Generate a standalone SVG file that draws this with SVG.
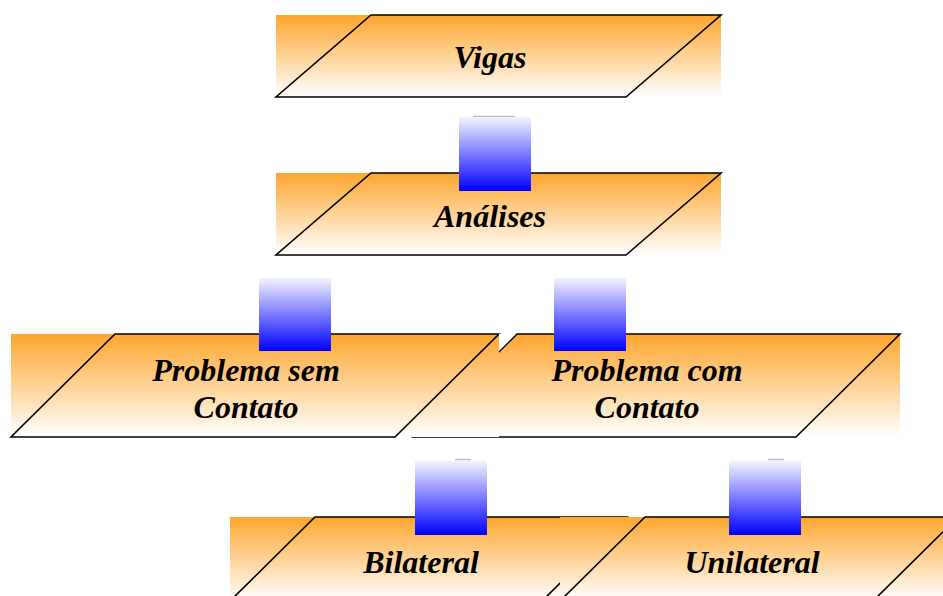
<svg xmlns="http://www.w3.org/2000/svg" width="943" height="596" viewBox="0 0 943 596">
  <defs>
    <linearGradient id="orange" x1="0" y1="0" x2="0" y2="1">
      <stop offset="0" stop-color="#FDA62E"/>
      <stop offset="1" stop-color="#FFFFFF"/>
    </linearGradient>
    <linearGradient id="blue" x1="0" y1="0" x2="0" y2="1">
      <stop offset="0" stop-color="#F4F4FF"/>
      <stop offset="1" stop-color="#0000FF"/>
    </linearGradient>
    <style>
      .box { fill: url(#orange); }
      .edge { fill: none; stroke: #000; stroke-width: 1.6; stroke-linejoin: miter; }
      .label { font-family: "Liberation Serif", "Times New Roman", serif; font-weight: bold; font-style: italic; font-size: 32px; fill: #000; text-anchor: middle; }
      .link { fill: url(#blue); }
      .cap { stroke: #BBBBBB; stroke-width: 1.5; }
    </style>
  </defs>

  <rect width="943" height="596" fill="#FFFFFF"/>

  <!-- top level -->
  <g id="node-vigas">
    <rect class="box" x="276" y="15" width="445" height="82"/>
    <polygon class="edge" points="371,15 721,15 626,97 276,97"/>
    <text class="label" x="490" y="68">Vigas</text>
  </g>

  <g id="node-analises">
    <rect class="box" x="276" y="173" width="445" height="82"/>
    <polygon class="edge" points="371,173 721,173 626,255 276,255"/>
    <text class="label" x="490" y="227">Análises</text>
  </g>

  <!-- second level: the right-hand box sits beneath the left-hand one -->
  <g id="node-com-contato">
    <rect class="box" x="413" y="334" width="487" height="103"/>
    <polygon class="edge" points="517,334 900,334 796,437 413,437"/>
    <text class="label" x="647" y="381">Problema com</text>
    <text class="label" x="647" y="418">Contato</text>
  </g>

  <g id="node-sem-contato">
    <rect class="box" x="11" y="334" width="488" height="103"/>
    <polygon class="edge" points="115,334 499,334 395,437 11,437"/>
    <polygon points="499,334 516,334 499,351" fill="#FFFFFF"/>
    <text class="label" x="246" y="381">Problema sem</text>
    <text class="label" x="246" y="418">Contato</text>
  </g>

  <!-- third level -->
  <g id="node-bilateral">
    <rect class="box" x="230" y="517" width="397" height="84"/>
    <polygon class="edge" points="315,517 627,517 542,601 230,601"/>
    <text class="label" x="421" y="573">Bilateral</text>
  </g>

  <g id="node-unilateral">
    <rect class="box" x="560" y="517" width="398" height="84"/>
    <polygon class="edge" points="645,517 958,517 873,601 560,601"/>
    <text class="label" x="752" y="573">Unilateral</text>
  </g>

  <!-- connectors -->
  <g id="connectors">
    <line class="cap" x1="473" y1="116.5" x2="515" y2="116.5"/>
    <rect class="link" x="459" y="117" width="72" height="74"/>

    <rect class="link" x="259" y="278" width="72" height="73"/>
    <rect class="link" x="554" y="278" width="72" height="73"/>

    <line class="cap" x1="455" y1="459.5" x2="471" y2="459.5"/>
    <rect class="link" x="415" y="461" width="72" height="74"/>
    <line class="cap" x1="768" y1="459.5" x2="784" y2="459.5"/>
    <rect class="link" x="729" y="461" width="72" height="74"/>
  </g>
</svg>
